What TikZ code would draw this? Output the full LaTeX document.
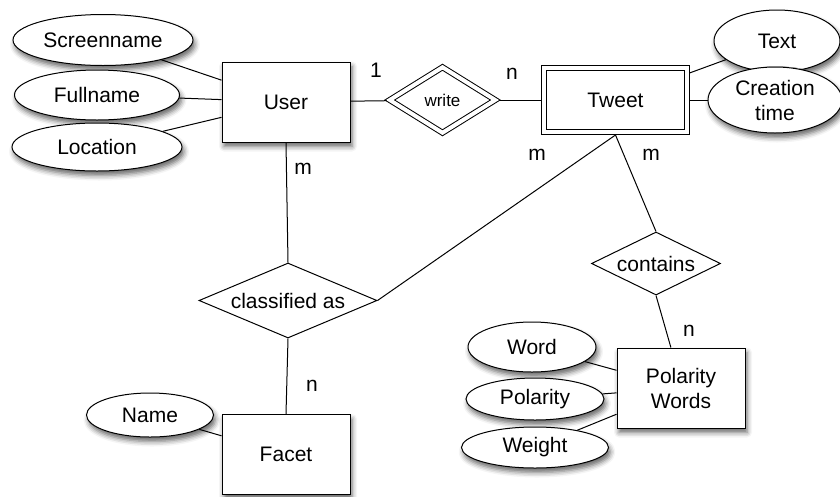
\documentclass[tikz,border=0pt]{standalone}
\usepackage{fontspec}
\setmainfont{Liberation Sans}
\usetikzlibrary{shapes.geometric,shadows.blur}
\begin{document}
\begin{tikzpicture}[x=1pt,y=-1pt,
  every node/.style={font=\fontsize{21}{25}\selectfont,text=black},
  sh/.style={blur shadow={shadow xshift=2pt,shadow yshift=-4.5pt,shadow blur radius=5pt,shadow opacity=60}},
  attr/.style={ellipse,draw,fill=white,line width=1pt,inner sep=0pt,sh},
  entity/.style={rectangle,draw,fill=white,line width=1pt,inner sep=0pt,
    minimum width=128pt,minimum height=80pt,align=center},
  rel/.style={diamond,draw,fill=white,line width=1pt,inner sep=0pt},
  conn/.style={line width=1pt}]
\useasboundingbox (0,0) rectangle (840,496);

% entities
\node[entity,sh] (user) at (286,102) {User};
\node[entity,double,double distance=4pt,minimum width=143pt,minimum height=64pt,outer sep=3pt] (tweet) at (615.5,100) {Tweet};
\node[entity,sh] (facet) at (286,454.5) {Facet};
\node[entity,sh] (pw) at (681,388) {Polarity\\Words};

% relationships
\node[rel,double,double distance=4pt,aspect=1.6,minimum width=108pt,minimum height=68pt,outer sep=3pt,
  font=\fontsize{17}{20}\selectfont] (write) at (442.5,100) {write};
\node[rel,aspect=2.37,minimum width=178pt,minimum height=75pt] (cls) at (288,300.5) {classified as};
\node[rel,aspect=2.05,minimum width=129pt,minimum height=63pt] (cont) at (656,263.5) {contains};

% attributes
\node[attr,minimum width=180pt,minimum height=51pt] (scr) at (103,40) {Screenname};
\node[attr,minimum width=165pt,minimum height=50pt] (full) at (97,95) {Fullname};
\node[attr,minimum width=170pt,minimum height=48pt] (loc) at (97,147) {Location};
\node[attr,minimum width=126pt,minimum height=62pt] (text) at (777,41) {Text};
\node[attr,minimum width=134pt,minimum height=66pt,align=center] (ctime) at (775,100) {Creation\\time};
\node[attr,minimum width=127pt,minimum height=44pt] (name) at (150,415) {Name};
\node[attr,minimum width=128pt,minimum height=50pt] (word) at (532,347) {Word};
\node[attr,minimum width=138pt,minimum height=42pt] (pol) at (535,399) {Polarity};
\node[attr,minimum width=147pt,minimum height=41pt] (wgt) at (535,447.5) {Weight};

% connectors
\draw[conn] (scr) -- (user);
\draw[conn] (full) -- (user);
\draw[conn] (loc) -- (user);
\draw[conn] (user) -- (write);
\draw[conn] (write) -- (tweet);
\draw[conn] (tweet) -- (text);
\draw[conn] (tweet) -- (ctime);
\draw[conn] (user.south) -- (cls.north);
\draw[conn] (tweet.south) -- (cls.east);
\draw[conn] (tweet.south) -- (cont.north);
\draw[conn] (cls.south) -- (facet.north);
\draw[conn] (name) -- (facet);
\draw[conn] (cont.south) -- (pw.104);
\draw[conn] (word) -- (pw);
\draw[conn] (pol) -- (pw);
\draw[conn] (wgt) -- (pw);

% cardinalities
\node (k1) at (376,70) {1};
\node (k2) at (512,74) {n};
\node (k3) at (303,169) {m};
\node (k4) at (537,155) {m};
\node (k5) at (651,155) {m};
\node (k6) at (312,386) {n};
\node (k7) at (689,331) {n};
\end{tikzpicture}
\end{document}
